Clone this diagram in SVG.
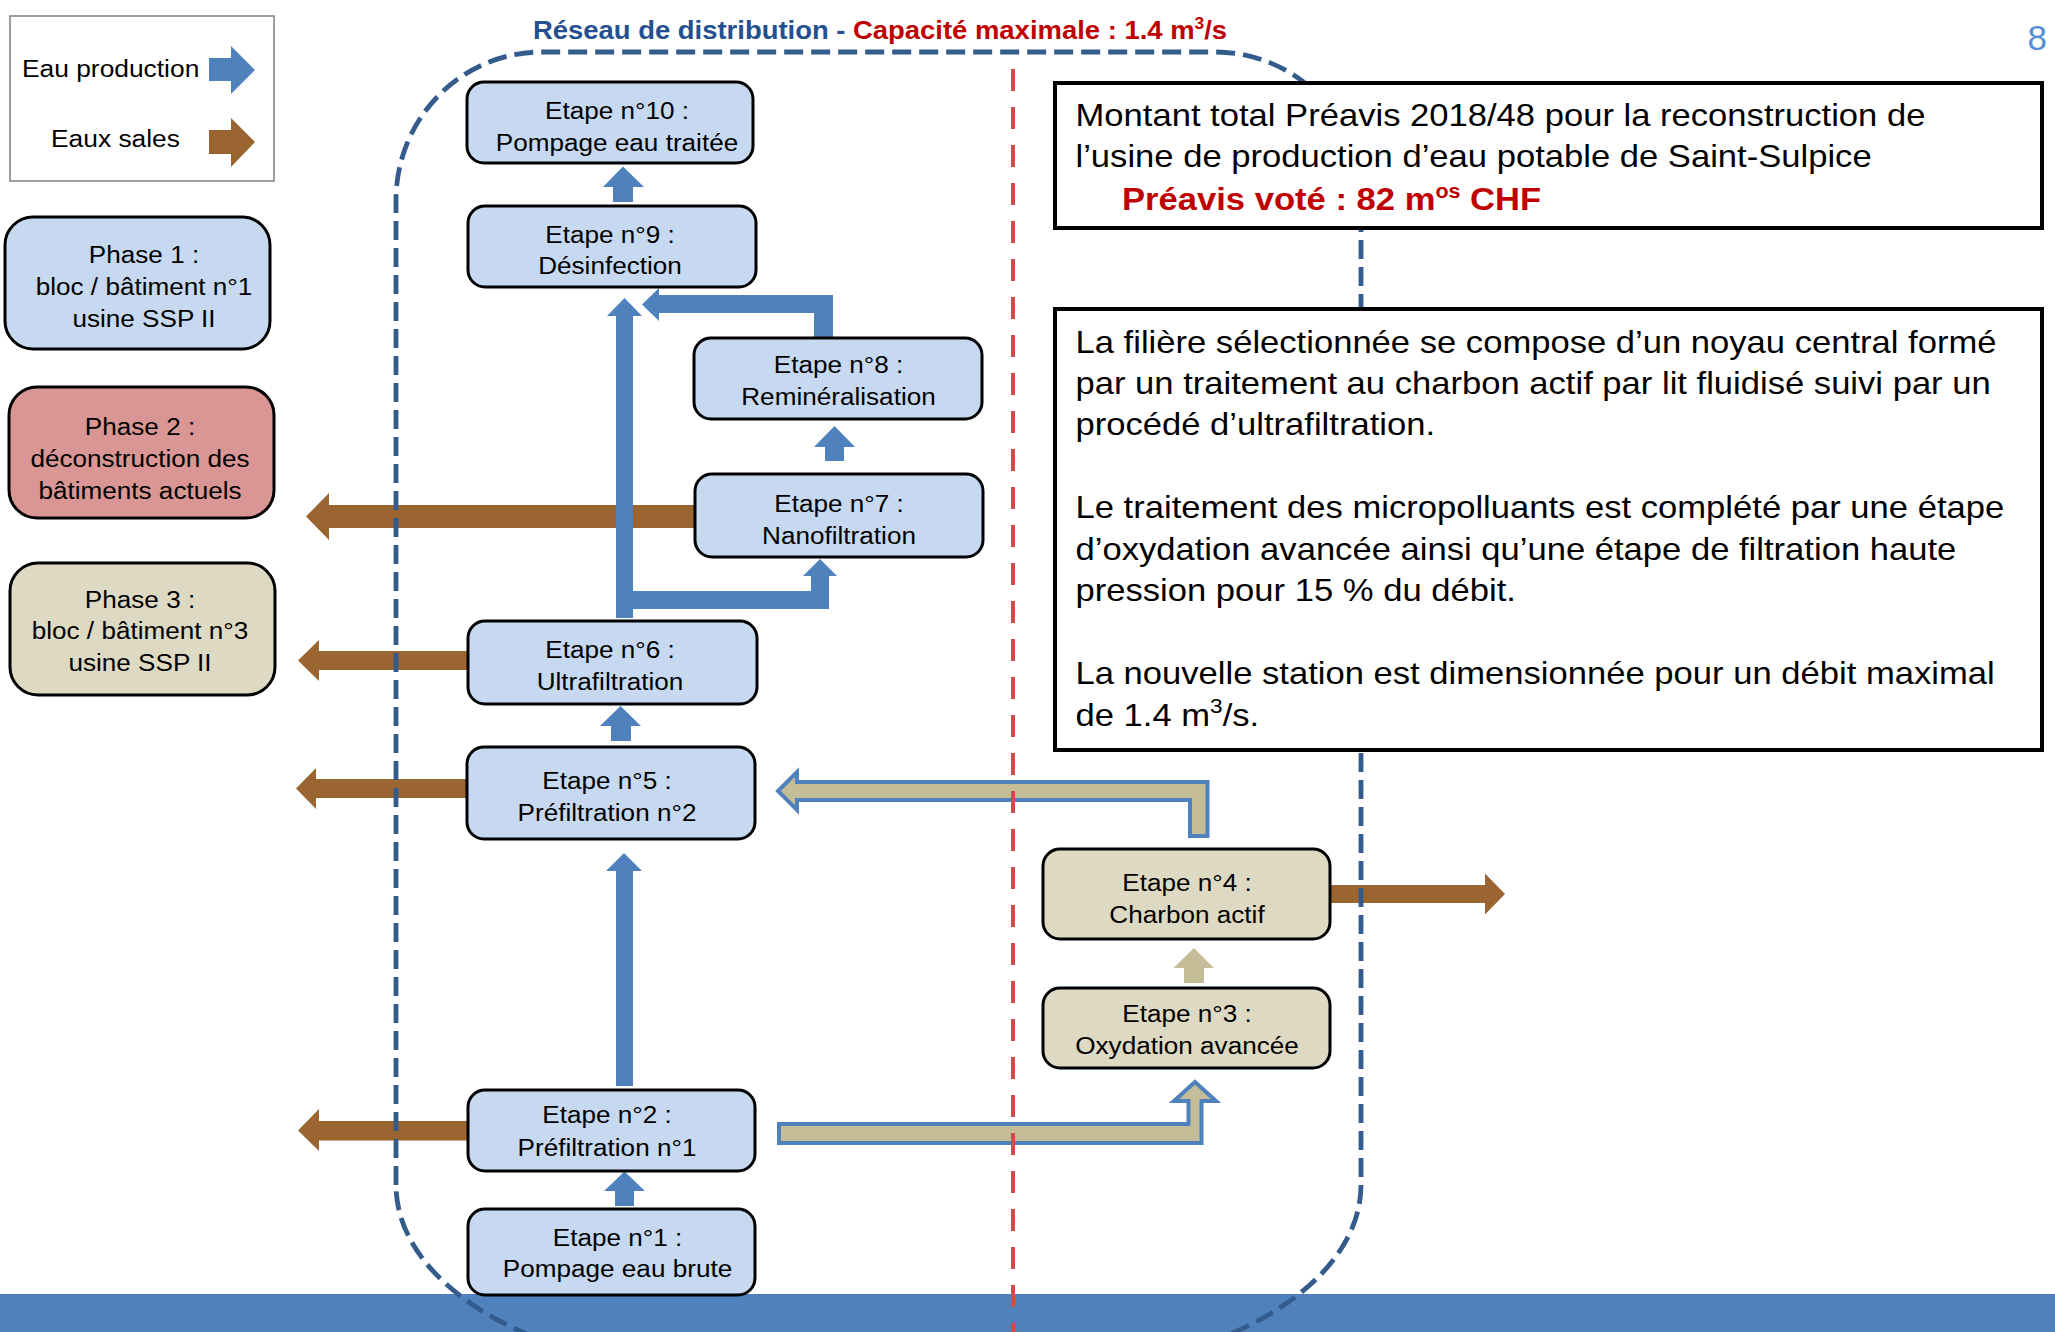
<svg xmlns="http://www.w3.org/2000/svg" width="2055" height="1332" viewBox="0 0 2055 1332">
<defs>
<style>
.t{font-family:"Liberation Sans",Arial,sans-serif;font-size:24.3px;fill:#000}
.bt{font-family:"Liberation Sans",Arial,sans-serif;font-size:32.2px;fill:#000}
.node{stroke:#000;stroke-width:3}
.pb{fill:#C6D9F1}
.pr{fill:#D99694}
.pt{fill:#DDD9C3}
.ab{fill:#4F81BD}
.abr{fill:#9B6531}
.at{fill:#C4BD97}
.ato{fill:#C4BD97;stroke:#4F81BD;stroke-width:4}
.box{fill:#fff;stroke:#000;stroke-width:4}
</style>
</defs>
<rect x="0" y="0" width="2055" height="1332" fill="#fff"/>
<rect id="bottom-bar" x="0" y="1294" width="2055" height="38" fill="#4F81BD"/>

<g id="legend">
<rect x="10" y="16" width="264" height="165" fill="#fff" stroke="#7F7F7F" stroke-width="1.5"/>
<text class="t" transform="translate(22 77) scale(1.085 1)">Eau production</text>
<text class="t" transform="translate(51 147) scale(1.085 1)">Eaux sales</text>
<polygon class="ab" points="255,70 231,46 231,58 209,58 209,81 231,81 231,94"/>
<polygon class="abr" points="255,142 231,118 231,130 209,130 209,154 231,154 231,167"/>
</g>

<g id="connectors">
<polygon class="abr" points="306,516.5 329,493 329,505 697,505 697,528 329,528 329,540"/>
<polygon class="abr" points="298,660.5 319,640 319,651 470,651 470,670 319,670 319,681"/>
<polygon class="abr" points="296,788.5 316,768 316,779 469,779 469,798 316,798 316,809"/>
<polygon class="abr" points="298,1130.5 319,1109 319,1121 470,1121 470,1140.5 319,1140.5 319,1151"/>
<polygon class="abr" points="1505,894 1485,873.5 1485,885 1328,885 1328,903 1485,903 1485,914.5"/>

<polygon class="ab" points="623,166.5 644,187 633,187 633,202 613,202 613,187 603,187"/>
<polygon class="ab" points="833,340 833,295 659,295 659,288 642,304.5 659,321 659,313 814,313 814,340"/>
<polygon class="ab" points="834.5,426 855,447 844,447 844,461 825,461 825,447 814,447"/>
<polygon class="ab" points="616,618 616,316 607,316 624.5,298 642,316 633,316 633,591 811,591 811,576 803,576 820,559 837,576 829,576 829,609 633,609 633,618"/>
<polygon class="ab" points="620.5,706 641,726 631,726 631,741 611,741 611,726 600,726"/>
<polygon class="ab" points="624,853 642,871 633,871 633,1086 616,1086 616,871 606,871"/>
<polygon class="ab" points="624.5,1171.5 645,1191 634,1191 634,1206 615,1206 615,1191 604,1191"/>

<polygon class="at" points="1194,948 1214,968 1204,968 1204,983 1184,983 1184,968 1173.5,968"/>
<path class="ato" d="M779 1124 L1188.5 1124 L1188.5 1101 L1174 1101 L1195 1082 L1216 1101 L1201.5 1101 L1201.5 1143 L779 1143 Z"/>
<path class="ato" d="M1207.5 836 L1207.5 782 L797 782 L797 772 L778 791 L797 810 L797 800 L1190 800 L1190 836 Z"/>
</g>

<g id="phase1">
<rect class="node pb" x="5" y="217" width="265" height="132" rx="28"/>
<text class="t" text-anchor="middle" transform="translate(144 263) scale(1.075 1)"><tspan x="0" y="0">Phase 1 :</tspan><tspan x="0" y="32.3">bloc / bâtiment n°1</tspan><tspan x="0" y="64">usine SSP II</tspan></text>
</g>
<g id="phase2">
<rect class="node pr" x="9" y="387" width="265" height="131" rx="28"/>
<text class="t" text-anchor="middle" transform="translate(140 435) scale(1.075 1)"><tspan x="0" y="0">Phase 2 :</tspan><tspan x="0" y="32">déconstruction des</tspan><tspan x="0" y="64">bâtiments actuels</tspan></text>
</g>
<g id="phase3">
<rect class="node pt" x="10" y="563" width="265" height="132" rx="28"/>
<text class="t" text-anchor="middle" transform="translate(140 608) scale(1.075 1)"><tspan x="0" y="0">Phase 3 :</tspan><tspan x="0" y="31.5">bloc / bâtiment n°3</tspan><tspan x="0" y="63">usine SSP II</tspan></text>
</g>

<g id="etape10">
<rect class="node pb" x="467" y="82" width="286" height="81" rx="17"/>
<text class="t" text-anchor="middle" transform="translate(617 119) scale(1.075 1)"><tspan x="0" y="0">Etape n°10 :</tspan><tspan x="0" y="31.7">Pompage eau traitée</tspan></text>
</g>
<g id="etape9">
<rect class="node pb" x="468" y="206" width="288" height="81" rx="17"/>
<text class="t" text-anchor="middle" transform="translate(610 242.5) scale(1.075 1)"><tspan x="0" y="0">Etape n°9 :</tspan><tspan x="0" y="31.5">Désinfection</tspan></text>
</g>
<g id="etape8">
<rect class="node pb" x="694" y="338" width="288" height="81" rx="17"/>
<text class="t" text-anchor="middle" transform="translate(838.5 373.3) scale(1.075 1)"><tspan x="0" y="0">Etape n°8 :</tspan><tspan x="0" y="31.7">Reminéralisation</tspan></text>
</g>
<g id="etape7">
<rect class="node pb" x="695" y="474" width="288" height="83" rx="17"/>
<text class="t" text-anchor="middle" transform="translate(839 511.7) scale(1.075 1)"><tspan x="0" y="0">Etape n°7 :</tspan><tspan x="0" y="32.3">Nanofiltration</tspan></text>
</g>
<g id="etape6">
<rect class="node pb" x="468" y="621" width="289" height="83" rx="17"/>
<text class="t" text-anchor="middle" transform="translate(610 658.3) scale(1.075 1)"><tspan x="0" y="0">Etape n°6 :</tspan><tspan x="0" y="31.7">Ultrafiltration</tspan></text>
</g>
<g id="etape5">
<rect class="node pb" x="467" y="747" width="288" height="92" rx="17"/>
<text class="t" text-anchor="middle" transform="translate(607 789.3) scale(1.075 1)"><tspan x="0" y="0">Etape n°5 :</tspan><tspan x="0" y="31.4">Préfiltration n°2</tspan></text>
</g>
<g id="etape2">
<rect class="node pb" x="468" y="1090" width="287" height="81" rx="17"/>
<text class="t" text-anchor="middle" transform="translate(607 1123.3) scale(1.075 1)"><tspan x="0" y="0">Etape n°2 :</tspan><tspan x="0" y="32.7">Préfiltration n°1</tspan></text>
</g>
<g id="etape1">
<rect class="node pb" x="468" y="1209" width="287" height="86" rx="17"/>
<text class="t" text-anchor="middle" transform="translate(617.5 1245.5) scale(1.075 1)"><tspan x="0" y="0">Etape n°1 :</tspan><tspan x="0" y="31.5">Pompage eau brute</tspan></text>
</g>
<g id="etape4">
<rect class="node pt" x="1043" y="849" width="287" height="90" rx="17"/>
<text class="t" text-anchor="middle" transform="translate(1187 891) scale(1.075 1)"><tspan x="0" y="0">Etape n°4 :</tspan><tspan x="0" y="32.3">Charbon actif</tspan></text>
</g>
<g id="etape3">
<rect class="node pt" x="1043" y="988" width="287" height="80" rx="17"/>
<text class="t" text-anchor="middle" transform="translate(1187 1022) scale(1.075 1)"><tspan x="0" y="0">Etape n°3 :</tspan><tspan x="0" y="32.4">Oxydation avancée</tspan></text>
</g>

<g id="reseau">
<path d="M396 1185 L396 200 A146 148 0 0 1 542 52 L1215 52 A146 146 0 0 1 1361 198 L1361 1185 A330 187 0 0 1 1031 1372 L726 1372 A330 187 0 0 1 396 1185 Z" fill="none" stroke="#335B8C" stroke-width="4.8" stroke-dasharray="19 8"/>
</g>
<line id="separator" x1="1013" y1="69" x2="1013" y2="1332" stroke="#CC4E4C" stroke-width="4" stroke-dasharray="22 16"/>

<text transform="translate(533 39) scale(1.085 1)" style="font-family:'Liberation Sans',Arial,sans-serif;font-size:25.3px;font-weight:bold"><tspan fill="#25508F">Réseau de distribution - </tspan><tspan fill="#C00000">Capacité maximale : 1.4 m<tspan font-size="16" dy="-10">3</tspan><tspan dy="10">/s</tspan></tspan></text>
<text x="2047" y="50" text-anchor="end" style="font-family:'Liberation Sans',Arial,sans-serif;font-size:35px;fill:#558ED5">8</text>

<g id="montant">
<rect class="box" x="1055" y="83" width="987" height="145"/>
<text class="bt" transform="translate(1075.5 126) scale(1.075 1)"><tspan x="0" y="0">Montant total Préavis 2018/48 pour la reconstruction de</tspan><tspan x="0" y="41">l’usine de production d’eau potable de Saint-Sulpice</tspan></text>
<text class="bt" transform="translate(1122 209.5) scale(1.075 1)" style="font-weight:bold;fill:#C00000">Préavis voté : 82 m<tspan font-size="20" dy="-12">os</tspan><tspan dy="12"> CHF</tspan></text>
</g>
<g id="description">
<rect class="box" x="1055" y="309" width="987" height="441"/>
<text class="bt" transform="translate(1075.5 352.5) scale(1.075 1)"><tspan x="0" y="0">La filière sélectionnée se compose d’un noyau central formé</tspan><tspan x="0" y="41.5">par un traitement au charbon actif par lit fluidisé suivi par un</tspan><tspan x="0" y="83">procédé d’ultrafiltration.</tspan><tspan x="0" y="166">Le traitement des micropolluants est complété par une étape</tspan><tspan x="0" y="207.5">d’oxydation avancée ainsi qu’une étape de filtration haute</tspan><tspan x="0" y="249">pression pour 15 % du débit.</tspan><tspan x="0" y="332">La nouvelle station est dimensionnée pour un débit maximal</tspan><tspan x="0" y="373.5">de 1.4 m<tspan font-size="21" dy="-13">3</tspan><tspan dy="13">/s.</tspan></tspan></text>
</g>
</svg>
